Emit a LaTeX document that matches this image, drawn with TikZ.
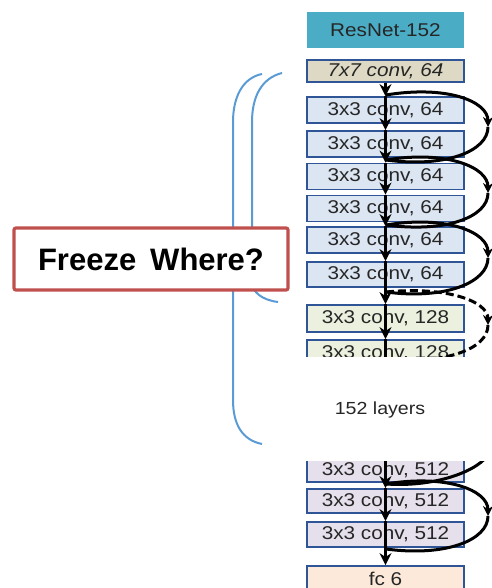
\documentclass[tikz,border=0pt]{standalone}
\usepackage{fontspec}
\usetikzlibrary{arrows.meta,calc}
\newfontfamily\boxfont[FakeStretch=1.12]{Liberation Sans}
\newfontfamily\frfont{Liberation Sans}
\definecolor{bxborder}{HTML}{2F5597}
\definecolor{bxtext}{HTML}{262626}
\definecolor{teal}{HTML}{4BACC6}
\definecolor{tan}{HTML}{DDD9C4}
\definecolor{lblue}{HTML}{DCE6F2}
\definecolor{lgreen}{HTML}{EBF1DE}
\definecolor{lviolet}{HTML}{E6E0EC}
\definecolor{peach}{HTML}{FDE9D9}
\definecolor{brk}{HTML}{5B9BD5}
\definecolor{frred}{HTML}{C0504D}
\begin{document}
\begin{tikzpicture}[x=1pt,y=-1pt,
  layer/.style={draw=bxborder, line width=1.8pt, minimum width=157pt, inner sep=0pt,
    text=bxtext, font=\boxfont\fontsize{18.5}{20}\selectfont, anchor=center},
  flow/.style={line width=3pt, -{Stealth[length=12pt,width=12pt]}},
  skip/.style={line width=3pt},
  skiptip/.style={line width=3pt, -{Stealth[length=10pt,width=10pt]}},
  bracket/.style={draw=brk, line width=2pt}]
\useasboundingbox (0,0) rectangle (491,588);

% brackets
\draw[bracket] (262,74) .. controls (242,78) and (233,98) .. (233,122) -- (233,400) .. controls (233,424) and (242,440) .. (262,444);
\draw[bracket] (282,73) .. controls (262,78) and (252,96) .. (252,122) -- (252,282) .. controls (252,292) and (262,300) .. (278,302);

% layers
\node[layer, fill=teal, draw=none, minimum height=36pt] (rn) at (385.5,30) {ResNet-152};
\node[layer, fill=tan, minimum height=22pt, font=\boxfont\itshape\fontsize{18.5}{20}\selectfont] (b0) at (385.5,71) {7x7 conv, 64};
\node[layer, fill=lblue, minimum height=26pt] (b1) at (385.5,110) {3x3 conv, 64};
\node[layer, fill=lblue, minimum height=26pt] (b2) at (385.5,144) {3x3 conv, 64};
\node[layer, fill=lblue, minimum height=26pt] (b3) at (385.5,176.5) {3x3 conv, 64};
\node[layer, fill=lblue, minimum height=26pt] (b4) at (385.5,208.5) {3x3 conv, 64};
\node[layer, fill=lblue, minimum height=26pt] (b5) at (385.5,240) {3x3 conv, 64};
\node[layer, fill=lblue, minimum height=25pt] (b6) at (385.5,274.5) {3x3 conv, 64};
\node[layer, fill=lgreen, minimum height=27pt] (b7) at (385.5,318.5) {3x3 conv, 128};
\node[layer, fill=lgreen, minimum height=26pt] (b8) at (385.5,353) {3x3 conv, 128};
\node[layer, fill=lviolet, minimum height=24pt] (c1) at (385.5,470) {3x3 conv, 512};
\node[layer, fill=lviolet, minimum height=24pt] (c2) at (385.5,501) {3x3 conv, 512};
\node[layer, fill=lviolet, minimum height=25pt] (c3) at (385.5,534.5) {3x3 conv, 512};
\node[layer, fill=peach, minimum height=26pt] (fc) at (385.5,579) {fc 6};

% main flow
\draw[flow] (b0.south) -- (b1.north);
\draw[flow] (b1.north) -- (b2.north);
\draw[flow] (b2.north) -- (b3.north);
\draw[flow] (b3.north) -- (b4.north);
\draw[flow] (b4.north) -- (b5.north);
\draw[flow] (b5.north) -- (b6.north);
\draw[flow] (b6.north) -- (b7.north);
\draw[flow] (b7.north) -- (b8.north);
\coordinate (hidtop) at (385.5,440);
\draw[flow] (b8.north) -- (hidtop);
\draw[flow] (hidtop) -- (c1.north);
\draw[flow] (c1.north) -- (c2.north);
\draw[flow] (c2.north) -- (c3.north);
\draw[flow] (c3.north) -- (fc.north);

% skip connections
\coordinate (s1) at (386,95);  \coordinate (a1) at (488,127); \coordinate (e1) at (386,160);
\coordinate (a2) at (488,193); \coordinate (e2) at (386,225);
\coordinate (a3) at (488,258); \coordinate (e3) at (386,292);
\coordinate (a4) at (488,325); \coordinate (e4) at (386,360);
\coordinate (a5) at (488,452); \coordinate (e5) at (386,484);
\coordinate (a6) at (488,516); \coordinate (e6) at (386,549);
\foreach \s/\a/\e in {s1/a1/e1, e1/a2/e2, e2/a3/e3, e5/a6/e6}{
  \draw[skiptip] (\s) .. controls ($(\s)+(60,-10)$) and ($(\a)+(0,-26)$) .. (\a);
  \draw[skip] (\a) .. controls ($(\a)+(0,24)$) and ($(\e)+(60,8)$) .. (\e);
}
\draw[skiptip, dashed, dash pattern=on 8pt off 4pt] (e3) .. controls ($(e3)+(60,-6)$) and ($(a4)+(0,-24)$) .. (a4);
\draw[skip, dashed, dash pattern=on 8pt off 4pt] (a4) .. controls ($(a4)+(0,24)$) and ($(e4)+(60,4)$) .. (e4);
\draw[skip] ($(a5)+(0,-30)$) -- (a5) .. controls ($(a5)+(0,12)$) and ($(e5)+(60,4)$) .. (e5);

% elided middle
\fill[white] (295,357) rectangle (491,461);
\node[text=bxtext, font=\boxfont\fontsize{17.5}{20}\selectfont] (mid) at (380,410) {152 layers};

% question box
\node[draw=frred, line width=3.2pt, fill=white, rounded corners=2pt, minimum width=274pt, minimum height=62pt,
  font=\frfont\bfseries\fontsize{31}{34}\selectfont] (fw) at (151,259) {Freeze\hspace{14pt}Where?};
\end{tikzpicture}
\end{document}
